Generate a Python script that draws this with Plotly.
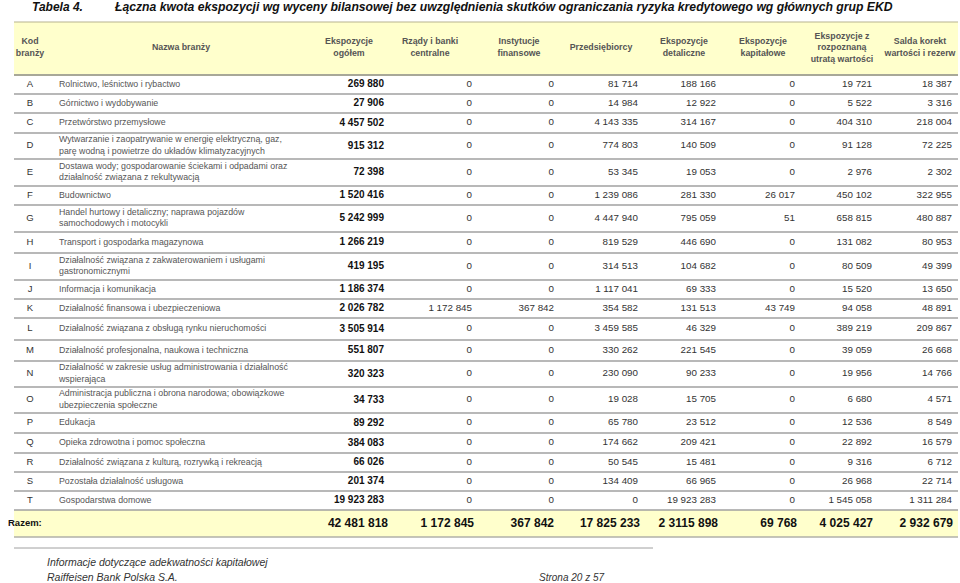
import plotly.graph_objects as go

# dane tabeli
kody = list("ABCDEFGHIJKLMNOPQRST")
nazwy = [
    "Rolnictwo, leśnictwo i rybactwo",
    "Górnictwo i wydobywanie",
    "Przetwórstwo przemysłowe",
    "Wytwarzanie i zaopatrywanie w energię elektryczną, gaz,<br>parę wodną i powietrze do układów klimatyzacyjnych",
    "Dostawa wody; gospodarowanie ściekami i odpadami oraz<br>działalność związana z rekultywacją",
    "Budownictwo",
    "Handel hurtowy i detaliczny; naprawa pojazdów<br>samochodowych i motocykli",
    "Transport i gospodarka magazynowa",
    "Działalność związana z zakwaterowaniem i usługami<br>gastronomicznymi",
    "Informacja i komunikacja",
    "Działalność finansowa i ubezpieczeniowa",
    "Działalność związana z obsługą rynku nieruchomości",
    "Działalność profesjonalna, naukowa i techniczna",
    "Działalność w zakresie usług administrowania i działalność<br>wspierająca",
    "Administracja publiczna i obrona narodowa; obowiązkowe<br>ubezpieczenia społeczne",
    "Edukacja",
    "Opieka zdrowotna i pomoc społeczna",
    "Działalność związana z kulturą, rozrywką i rekreacją",
    "Pozostała działalność usługowa",
    "Gospodarstwa domowe",
]
ogolem = [269880, 27906, 4457502, 915312, 72398, 1520416, 5242999, 1266219, 419195, 1186374,
          2026782, 3505914, 551807, 320323, 34733, 89292, 384083, 66026, 201374, 19923283]
rzady = [0, 0, 0, 0, 0, 0, 0, 0, 0, 0, 1172845, 0, 0, 0, 0, 0, 0, 0, 0, 0]
instytucje = [0, 0, 0, 0, 0, 0, 0, 0, 0, 0, 367842, 0, 0, 0, 0, 0, 0, 0, 0, 0]
przedsiebiorcy = [81714, 14984, 4143335, 774803, 53345, 1239086, 4447940, 819529, 314513, 1117041,
                  354582, 3459585, 330262, 230090, 19028, 65780, 174662, 50545, 134409, 0]
detaliczne = [188166, 12922, 314167, 140509, 19053, 281330, 795059, 446690, 104682, 69333,
              131513, 46329, 221545, 90233, 15705, 23512, 209421, 15481, 66965, 19923283]
kapitalowe = [0, 0, 0, 0, 0, 26017, 51, 0, 0, 0, 43749, 0, 0, 0, 0, 0, 0, 0, 0, 0]
utrata = [19721, 5522, 404310, 91128, 2976, 450102, 658815, 131082, 80509, 15520,
          94058, 389219, 39059, 19956, 6680, 12536, 22892, 9316, 26968, 1545058]
salda = [18387, 3316, 218004, 72225, 2302, 322955, 480887, 80953, 49399, 13650,
         48891, 209867, 26668, 14766, 4571, 8549, 16579, 6712, 22714, 1311284]
razem = ["42 481 818", "1 172 845", "367 842", "17 825 233", "2 3115 898", "69 768", "4 025 427", "2 932 679"]

naglowki = ["Kod<br>branży", "Nazwa branży", "Ekspozycje<br>ogółem", "Rządy i banki<br>centralne",
            "Instytucje<br>finansowe", "Przedsiębiorcy", "Ekspozycje<br>detaliczne", "Ekspozycje<br>kapitałowe",
            "Ekspozycje z<br>rozpoznaną<br>utratą wartości", "Salda korekt<br>wartości i rezerw"]

# uklad (piksele)
wysokosci = [19, 19, 20, 26, 27, 19, 27, 21, 27, 19, 19, 22, 21, 26, 26, 20, 20, 19, 19, 19]
x_naglowki = [30, 181, 349, 430, 519, 601, 684, 763, 842, 920]
x_prawe = [384, 472, 554, 638, 716, 795, 872, 952]
x_razem = [388, 474, 554, 640, 718, 797, 873, 953]
FONT = "Liberation Sans, Arial, sans-serif"


def fmt(v):
    return f"{v:,}".replace(",", " ")


granice = [75]
for h in wysokosci:
    granice.append(granice[-1] + h)
srodki = [(granice[i] + granice[i + 1]) / 2 for i in range(len(wysokosci))]

fig = go.Figure()

# pasy tla i linie
shapes = [
    dict(type="rect", x0=14, x1=958, y0=22, y1=75, fillcolor="#FFFFCC", line_width=0, layer="below"),
    dict(type="rect", x0=14, x1=958, y0=510, y1=537, fillcolor="#FFFFCC", line_width=0, layer="below"),
    dict(type="line", x0=14, x1=958, y0=22, y1=22, line=dict(color="#B8B490", width=1.2)),
    dict(type="line", x0=14, x1=958, y0=75, y1=75, line=dict(color="#A8A898", width=2)),
    dict(type="line", x0=14, x1=958, y0=537, y1=537, line=dict(color="#B0B0A8", width=1.5)),
    dict(type="line", x0=14, x1=653, y0=548, y1=548, line=dict(color="#A0A0A0", width=1)),
]
for g in granice[1:]:
    shapes.append(dict(type="line", x0=14, x1=958, y0=g, y1=g, line=dict(color="#A0A0A0", width=1.4)))

# naglowki
fig.add_trace(go.Scatter(x=x_naglowki, y=[48] * len(x_naglowki), text=naglowki, mode="text",
                         textposition="middle center",
                         textfont=dict(family=FONT, size=8.8, color="#555555", weight="bold")))
# kody i nazwy
fig.add_trace(go.Scatter(x=[30] * len(kody), y=srodki, text=kody, mode="text",
                         textposition="middle center", textfont=dict(family=FONT, size=9.5, color="#333333")))
fig.add_trace(go.Scatter(x=[59] * len(nazwy), y=srodki, text=nazwy, mode="text",
                         textposition="middle right", textfont=dict(family=FONT, size=8.8, color="#555555")))

kolumny = [ogolem, rzady, instytucje, przedsiebiorcy, detaliczne, kapitalowe, utrata, salda]
for i, kol in enumerate(kolumny):
    pogrub = i == 0
    fig.add_trace(go.Scatter(x=[x_prawe[i]] * len(kol), y=srodki, text=[fmt(v) for v in kol], mode="text",
                             textposition="middle left",
                             textfont=dict(family=FONT, size=10 if pogrub else 9.8,
                                           color="#111111" if pogrub else "#333333",
                                           weight="bold" if pogrub else "normal")))

# wiersz Razem
fig.add_trace(go.Scatter(x=x_razem, y=[523.5] * len(razem), text=razem, mode="text",
                         textposition="middle left",
                         textfont=dict(family=FONT, size=12, color="#111111", weight="bold")))
fig.add_trace(go.Scatter(x=[8], y=[523.5], text=["Razem:"], mode="text", textposition="middle right",
                         textfont=dict(family=FONT, size=9.5, color="#111111", weight="bold")))

annotations = [
    dict(x=30, y=7, text="<b><i>Tabela 4.</i></b>", showarrow=False, xanchor="left", yanchor="middle",
         font=dict(family=FONT, size=12, color="#111111")),
    dict(x=112, y=7, text="<b><i>Łączna kwota ekspozycji wg wyceny bilansowej bez uwzględnienia skutków ograniczania ryzyka kredytowego wg głównych grup EKD</i></b>",
         showarrow=False, xanchor="left", yanchor="middle", font=dict(family=FONT, size=12.2, color="#111111")),
    dict(x=45, y=562, text="<i>Informacje dotyczące adekwatności kapitałowej</i>", showarrow=False,
         xanchor="left", yanchor="middle", font=dict(family=FONT, size=10.5, color="#333333")),
    dict(x=45, y=577, text="<i>Raiffeisen Bank Polska S.A.</i>", showarrow=False,
         xanchor="left", yanchor="middle", font=dict(family=FONT, size=10.5, color="#333333")),
    dict(x=537, y=577, text="<i>Strona 20 z 57</i>", showarrow=False,
         xanchor="left", yanchor="middle", font=dict(family=FONT, size=10, color="#333333")),
]
for a in annotations:
    a["xref"] = "x"
    a["yref"] = "y"

fig.update_layout(
    width=960, height=583,
    margin=dict(l=0, r=0, t=0, b=0),
    paper_bgcolor="white", plot_bgcolor="white",
    showlegend=False,
    shapes=shapes,
    annotations=annotations,
    xaxis=dict(range=[0, 960], visible=False, fixedrange=True),
    yaxis=dict(range=[583, 0], visible=False, fixedrange=True),
)

fig.write_html("out.html", config={"displayModeBar": False},
               post_script="document.body.style.margin='0';document.body.style.overflow='hidden';")
